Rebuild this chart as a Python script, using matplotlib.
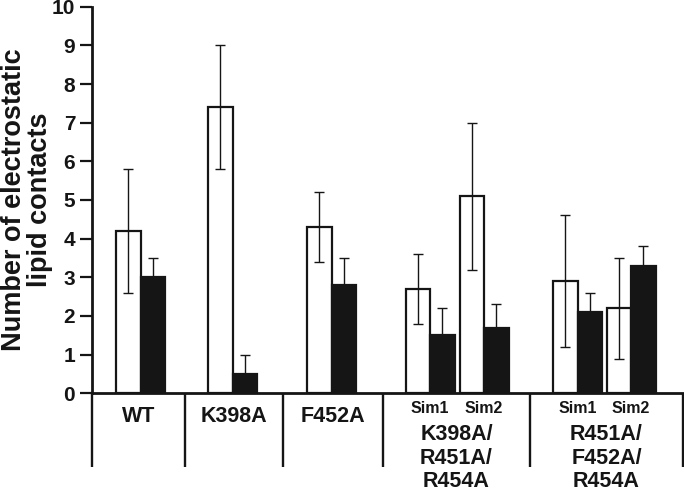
#!/usr/bin/env python3
"""Electrostatic lipid contacts per mutant: paired bars (white / black) with error bars."""

import numpy as np
import matplotlib.pyplot as plt

plt.rcParams['font.family'] = ['Liberation Sans', 'DejaVu Sans']
plt.rcParams['font.weight'] = 'bold'

# data
white_vals = [4.2, 7.4, 4.3, 2.7, 5.1, 2.9, 2.2]
white_err = [1.6, 1.6, 0.9, 0.9, 1.9, 1.7, 1.3]
black_vals = [3.0, 0.5, 2.8, 1.5, 1.7, 2.1, 3.3]
black_err = [0.5, 0.5, 0.7, 0.7, 0.6, 0.5, 0.5]
sim_labels = ['', '', '', 'Sim1', 'Sim2', 'Sim1', 'Sim2']
group_labels = [['WT'], ['K398A'], ['F452A'],
                ['K398A/', 'R451A/', 'R454A'],
                ['R451A/', 'F452A/', 'R454A']]

# layout (x in axis units, roughly pixels from the y axis)
pair_pos = np.array([48.5, 140.5, 239.5, 338, 392, 485.5, 539])
bar_w = 24.5
separators = [0, 93, 191, 291, 438, 591]
group_centers = [(a + b) / 2 for a, b in zip(separators[:-1], separators[1:])]
x_max = 591

fig = plt.figure(figsize=(6.84, 4.93), dpi=100)
ax = fig.add_axes([92 / 684, 99.7 / 493, 591 / 684, 386.6 / 493])

ink = '#151515'
ax.bar(pair_pos - bar_w / 2, white_vals, bar_w, color='white', edgecolor=ink, linewidth=1.6, zorder=2)
ax.bar(pair_pos + bar_w / 2, black_vals, bar_w, color=ink, edgecolor=ink, linewidth=1.6, zorder=2)
ax.errorbar(pair_pos - bar_w / 2, white_vals, yerr=white_err, fmt='none', ecolor=ink,
            elinewidth=1.0, capsize=3.6, capthick=1.0, zorder=3)
ax.errorbar(pair_pos + bar_w / 2, black_vals, yerr=black_err, fmt='none', ecolor=ink,
            elinewidth=1.0, capsize=3.6, capthick=1.0, zorder=3)

ax.set_xlim(0, x_max)
ax.set_ylim(0, 10)
ax.set_xticks([])
ax.set_yticks(range(0, 11))
ax.tick_params(axis='y', direction='out', length=8.6, width=1.6, pad=3.5, labelsize=15, colors=ink)
for lbl in ax.get_yticklabels():
    lbl.set_fontweight('bold')

for side in ['top', 'right']:
    ax.spines[side].set_visible(False)
for side in ['left', 'bottom']:
    ax.spines[side].set_linewidth(2.0)
    ax.spines[side].set_color(ink)

# category table below the axis
y_sep = -1.91
for xs in separators:
    ax.plot([xs, xs], [0, y_sep], color=ink, lw=1.7, clip_on=False, solid_capstyle='butt')

for xc, lines in zip(group_centers, group_labels):
    if len(lines) == 1:
        ax.text(xc, -0.73, lines[0], ha='center', va='baseline', fontsize=15.5,
                fontweight='bold', color=ink, clip_on=False)
    else:
        for k, line in enumerate(lines):
            ax.text(xc, -1.21 - 0.61 * k, line, ha='center', va='baseline', fontsize=15.5,
                    fontweight='bold', color=ink, clip_on=False)

for xp, s in zip(pair_pos, sim_labels):
    if s:
        ax.text(xp, -0.52, s, ha='center', va='baseline', fontsize=11.5,
                fontweight='bold', color=ink, clip_on=False)

ax.set_ylabel('Number of electrostatic\nlipid contacts', fontsize=19.5, fontweight='bold',
              color=ink, linespacing=1.0)
ax.yaxis.set_label_coords(-0.066, 0.5)

fig.savefig('out.png', dpi=100)
